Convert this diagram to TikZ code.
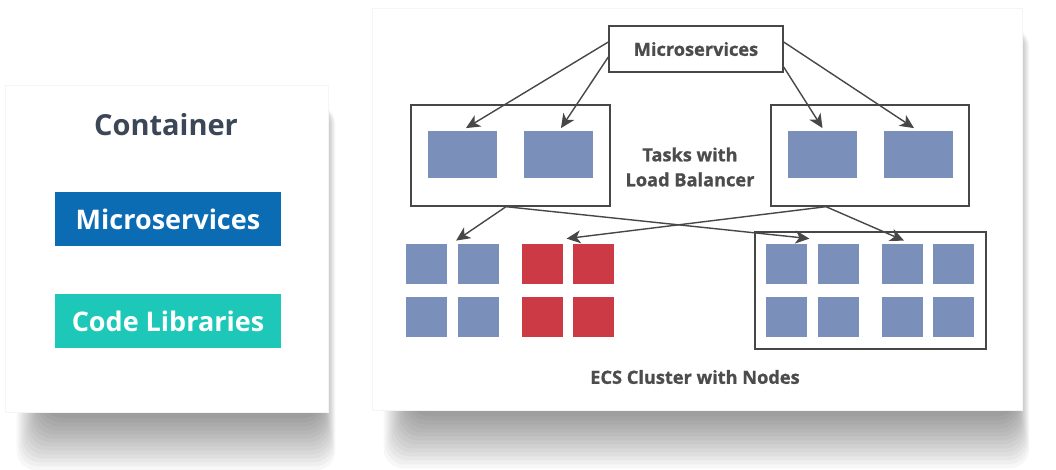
\documentclass[tikz,border=0pt]{standalone}
\usepackage{fontspec}
\setmainfont{Open Sans}
\newfontfamily\labelfont{Open Sans}[FakeBold=0.9]
\usetikzlibrary{arrows.meta,calc}
\definecolor{cardtext}{HTML}{3B4656}
\definecolor{msblue}{HTML}{0B6BB3}
\definecolor{libteal}{HTML}{1EC8B8}
\definecolor{taskblue}{HTML}{7A8FBA}
\definecolor{taskred}{HTML}{CC3B45}
\definecolor{linegray}{HTML}{474747}
\definecolor{labelgray}{HTML}{4C4C4C}
\pgfdeclarelayer{bg}
\pgfsetlayers{bg,main}

\begin{document}
\begin{tikzpicture}[x=0.5pt,y=-0.5pt,
 card/.style={fill=white,draw=black!4,line width=0.4pt,inner sep=0pt},
 tagbox/.style={fill=#1,text=white,inner sep=0pt,minimum width=113pt,minimum height=27pt,font=\bfseries\fontsize{13.5}{16}\selectfont},
 frame/.style={draw=linegray,line width=0.7pt,inner sep=0pt},
 slot/.style={fill=taskblue,inner sep=0pt,minimum width=20.5pt,minimum height=20pt},
 label/.style={text=labelgray,align=center,font=\labelfont\bfseries\fontsize{9.1}{12.5}\selectfont},
 arrow/.style={-{Stealth[length=7pt,width=6.5pt,inset=2pt]},draw=linegray,line width=0.7pt}]
\useasboundingbox (0,0) rectangle (1056,470);
% cards
\node[card,minimum width=161.5pt,minimum height=163.5pt] (cardL) at (166.5,248.5) {};
\node[card,minimum width=325pt,minimum height=201pt] (cardR) at (697,209) {};
% container side
\node[text=cardtext,font=\bfseries\fontsize{14.5}{17}\selectfont] (title) at (166,125) {Container};
\node[tagbox=msblue] (msbox) at (168,219) {Microservices};
\node[tagbox=libteal] (libbox) at (168,321.5) {Code Libraries};
% tasks
\node[frame,minimum width=87pt,minimum height=23pt,label] (ms) at (696,49) {Microservices};
\node[frame,minimum width=99.5pt,minimum height=50.5pt] (taskL) at (510.5,155.5) {};
\node[frame,minimum width=99pt,minimum height=50.5pt] (taskR) at (870,155.5) {};
\node[slot,minimum width=34.5pt,minimum height=23.5pt] (tL1) at (462.5,155) {};
\node[slot,minimum width=34.5pt,minimum height=23.5pt] (tL2) at (558,155) {};
\node[slot,minimum width=34.5pt,minimum height=23.5pt] (tR1) at (822.5,155) {};
\node[slot,minimum width=34.5pt,minimum height=23.5pt] (tR2) at (918.5,155) {};
\node[label] (tasks) at (690,167) {Tasks with\\Load Balancer};
% cluster
\node[frame,minimum width=115.5pt,minimum height=58.5pt] (cluster) at (870.5,290.5) {};
\foreach \x/\n in {426.5/1,478/2}
 \foreach \y/\m in {264/1,317/2}
  \node[slot] (g\n\m) at (\x,\y) {};
\foreach \x/\n in {542.5/1,593.5/2}
 \foreach \y/\m in {264/1,317/2}
  \node[slot,fill=taskred] (r\n\m) at (\x,\y) {};
\foreach \x/\n in {786.5/1,838.5/2,902.5/3,953.5/4}
 \foreach \y/\m in {264/1,317/2}
  \node[slot] (c\n\m) at (\x,\y) {};
\node[label] (ecs) at (695,377) {ECS Cluster with Nodes};
% arrows
\draw[arrow] ($(ms.west)+(0,-7)$)--($(tL1.north)+(3.5,-3)$);
\draw[arrow] ($(ms.west)+(0,8)$)--($(tL2.north)+(3,-3)$);
\draw[arrow] ($(ms.east)+(0,-7)$)--($(tR2.north)+(-4.5,-3)$);
\draw[arrow] ($(ms.east)+(0,18)$)--($(tR1.north)+(0,-3)$);
\draw[arrow] ($(taskL.south)+(-4.5,0)$)--($(g21.north west)+(-1,-3)$);
\draw[arrow] ($(taskL.south)+(-4.5,0)$)--($(c11.north east)+(2,-5)$);
\draw[arrow] ($(taskR.south)+(-44,0)$)--($(r21.north west)+(-6,-5)$);
\draw[arrow] ($(taskR.south)+(-44,0)$)--($(c31.north)+(1.5,-3)$);
% soft shadows
\begin{pgfonlayer}{bg}
\fill[white] (0,0) rectangle (1056,470);
\foreach \c in {cardL,cardR}
 \foreach \k in {0,...,13}
  \fill[black,opacity=0.032,rounded corners=10pt]
   ($(\c.north west)+(12+2*\k,20)$) rectangle ($(\c.south east)+(7-\k,58-4*\k)$);
\end{pgfonlayer}
\end{tikzpicture}
\end{document}
